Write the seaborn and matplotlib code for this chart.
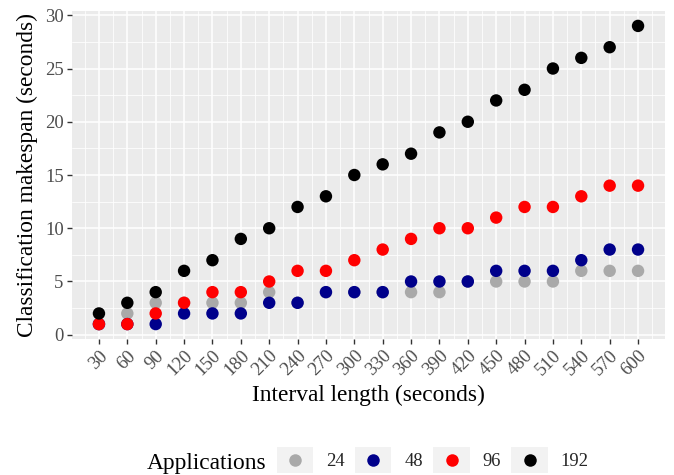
import matplotlib
matplotlib.use("Agg")
import matplotlib.pyplot as plt
import numpy as np
import pandas as pd
import seaborn as sns
from matplotlib.legend_handler import HandlerBase
from matplotlib.patches import Rectangle
from matplotlib.lines import Line2D

# ---- data ----
intervals = [30, 60, 90, 120, 150, 180, 210, 240, 270, 300,
             330, 360, 390, 420, 450, 480, 510, 540, 570, 600]
apps_24 = [1, 2, 3, 3, 3, 3, 4, 3, 4, 4, 4, 4, 4, 5, 5, 5, 5, 6, 6, 6]
apps_48 = [1, 1, 1, 2, 2, 2, 3, 3, 4, 4, 4, 5, 5, 5, 6, 6, 6, 7, 8, 8]
apps_96 = [1, 1, 2, 3, 4, 4, 5, 6, 6, 7, 8, 9, 10, 10, 11, 12, 12, 13, 14, 14]
apps_192 = [2, 3, 4, 6, 7, 9, 10, 12, 13, 15, 16, 17, 19, 20, 22, 23, 25, 26, 27, 29]
app_levels = ["24", "48", "96", "192"]
colors = ["#A9A9A9", "#00008B", "#FF0000", "#000000"]

series = [apps_24, apps_48, apps_96, apps_192]
df = pd.concat([
    pd.DataFrame({"interval": intervals, "makespan": vals, "Applications": lvl})
    for lvl, vals in zip(app_levels, series)
], ignore_index=True)

# ---- style ----
sns.set_theme(style="darkgrid")
plt.rcParams["font.family"] = ["Liberation Serif", "DejaVu Serif"]

fig = plt.figure(figsize=(6.74, 4.75), dpi=100)
ax = fig.add_axes([72 / 674, 1 - 339 / 475, (665 - 72) / 674, (339 - 11) / 475])
ax.set_facecolor("#EBEBEB")

sns.scatterplot(data=df, x="interval", y="makespan", hue="Applications",
                hue_order=app_levels, palette=dict(zip(app_levels, colors)),
                s=80, linewidth=0, ax=ax, legend=False, zorder=3)

ax.set_xlim(1.5, 628.5)
ax.set_ylim(-0.4, 30.4)
ax.set_xticks(intervals)
ax.set_xticklabels([str(v) for v in intervals], rotation=45, ha="right",
                   rotation_mode="anchor", fontsize=13.4, color="#4D4D4D")
ax.set_xticks([v + 15 for v in [0] + intervals], minor=True)
ax.set_yticks([0, 5, 10, 15, 20, 25, 30])
ax.set_yticklabels(["0", "5", "10", "15", "20", "25", "30"], fontsize=13.4, color="#4D4D4D")
ax.set_yticks([2.5, 7.5, 12.5, 17.5, 22.5, 27.5], minor=True)

ax.grid(which="major", color="white", linewidth=1.1)
ax.grid(which="minor", color="white", linewidth=0.55)
ax.set_axisbelow(True)
for sp in ax.spines.values():
    sp.set_visible(False)
ax.tick_params(axis="both", which="major", length=3.5, width=1.0, color="#333333",
               pad=2.5, bottom=True, left=True)
ax.tick_params(axis="both", which="minor", length=0)

ax.set_xlabel("Interval length (seconds)", fontsize=16.8, color="black", labelpad=4)
ax.set_ylabel("Classification makespan (seconds)", fontsize=16.8, color="black", labelpad=5)


class KeyHandler(HandlerBase):
    def create_artists(self, legend, orig_handle, xdescent, ydescent, width, height,
                       fontsize, trans):
        rect = Rectangle((-xdescent, -ydescent), width, height, facecolor="#F2F2F2",
                         edgecolor="none", transform=trans)
        dot = Line2D([-xdescent + width / 2], [-ydescent + height / 2], marker="o",
                     linestyle="none", markersize=9,
                     markerfacecolor=orig_handle.get_markerfacecolor(),
                     markeredgewidth=0, transform=trans)
        return [rect, dot]


handles = [Line2D([], [], marker="o", linestyle="none", markerfacecolor=c) for c in colors]
leg = fig.legend(handles, app_levels, loc="center left",
                 bbox_to_anchor=(277 / 674, 1 - 460 / 475), ncol=4, frameon=False,
                 fontsize=13.4, handlelength=1.95, handleheight=1.85, handletextpad=0.7,
                 columnspacing=0.55, borderpad=0, borderaxespad=0,
                 handler_map={Line2D: KeyHandler()})
fig.text(147 / 674, 1 - 469 / 475, "Applications", fontsize=16.8, va="baseline",
         ha="left", color="black")

fig.savefig("out.png", dpi=100)
